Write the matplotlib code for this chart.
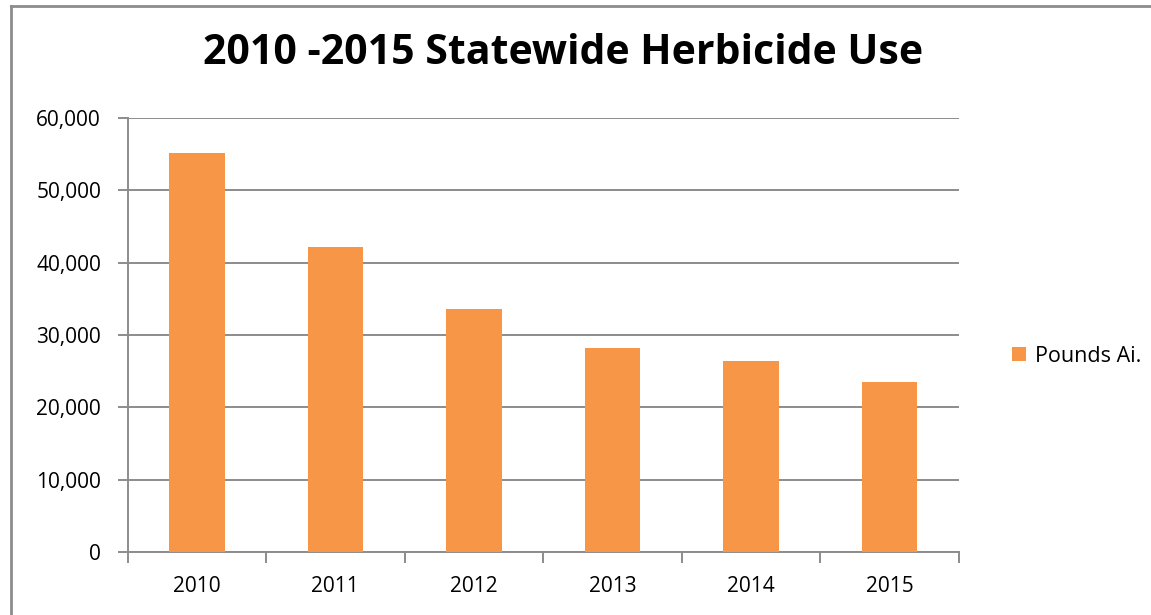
import matplotlib
matplotlib.use("Agg")
import matplotlib.pyplot as plt
from matplotlib.ticker import FuncFormatter, MultipleLocator
from matplotlib.lines import Line2D
from matplotlib.patches import Patch

years = ["2010", "2011", "2012", "2013", "2014", "2015"]
pounds_ai = [55100, 42200, 33550, 28200, 26400, 23500]
series_name = "Pounds Ai."
title = "2010 -2015 Statewide Herbicide Use"

W, H = 1151, 615
fig = plt.figure(figsize=(W / 100, H / 100), dpi=100)
fig.patch.set_facecolor("white")

ax = fig.add_axes([127.5 / W, 1 - 552 / H, (959 - 127.5) / W, (552 - 118) / H])

x = list(range(len(years)))
bars = ax.bar(x, pounds_ai, width=0.4, color="#F79646", edgecolor="none",
              zorder=3, label=series_name)

ax.set_xlim(-0.5, len(years) - 0.5)
ax.set_ylim(0, 60000)
ax.yaxis.set_major_locator(MultipleLocator(10000))
ax.yaxis.set_major_formatter(FuncFormatter(lambda v, p: f"{int(v):,}"))
ax.grid(axis="y", color="#8c8c8c", linewidth=1.4, zorder=0)

for s in ["top", "right"]:
    ax.spines[s].set_visible(False)
for s in ["left", "bottom"]:
    ax.spines[s].set_color("#8c8c8c")
    ax.spines[s].set_linewidth(1.4)

ax.set_xticks(x)
ax.set_xticklabels(years)
ax.set_xticks([i - 0.5 for i in range(len(years) + 1)], minor=True)
ax.tick_params(axis="x", which="major", length=0, pad=17, labelsize=15)
ax.tick_params(axis="x", which="minor", length=8, width=1.4, color="#8c8c8c")
ax.tick_params(axis="y", length=7, width=1.4, color="#8c8c8c", pad=12, labelsize=15)
for lab in ax.get_xticklabels() + ax.get_yticklabels():
    lab.set_fontfamily("Open Sans")

fig.text(563 / W, 1 - 53 / H, title, ha="center", va="center",
         fontsize=29.5, fontweight="bold", fontfamily="Open Sans")

handle = Patch(facecolor="#F79646", edgecolor="none")
fig.legend([handle], [series_name], loc="center left",
           bbox_to_anchor=(993 / W, 1 - 356 / H), frameon=False,
           prop={"family": "Open Sans", "size": 15.5},
           handlelength=0.65, handleheight=0.65, handletextpad=0.4)

# outer border (top and left edges)
fig.add_artist(Line2D([11 / W, 1.0], [1 - 6 / H, 1 - 6 / H], color="#8c8c8c",
                      linewidth=2, transform=fig.transFigure))
fig.add_artist(Line2D([11 / W, 11 / W], [0, 1 - 6 / H], color="#8c8c8c",
                      linewidth=2, transform=fig.transFigure))

fig.savefig("out.png", dpi=100)
